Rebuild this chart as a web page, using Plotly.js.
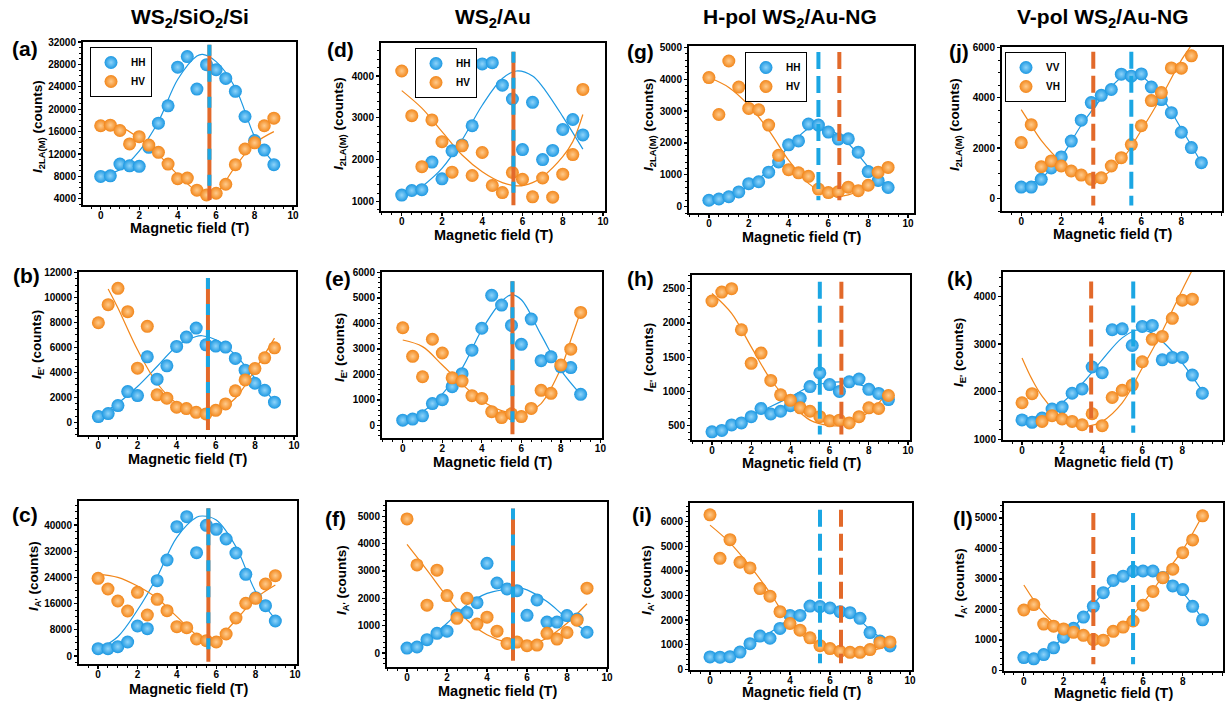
<!DOCTYPE html>
<html><head><meta charset="utf-8">
<script src="https://cdn.plot.ly/plotly-3.0.1.min.js"></script>
<style>html,body{margin:0;padding:0;background:#fff}#chart{width:1225px;height:701px}</style>
</head><body><div id="chart"></div>
<script>
// ---------- data ----------
const fieldT   = [0,0.5,1,1.5,2,2.5,3,3.5,4,4.5,5,5.5,6,6.5,7,7.5,8,8.5,9];
const fieldT85 = [0,0.5,1,1.5,2,2.5,3,3.5,4,4.5,5,5.5,6,6.5,7,7.5,8,8.5];

const columnTitles = ['WS<sub>2</sub>/SiO<sub>2</sub>/Si','WS<sub>2</sub>/Au','H-pol WS<sub>2</sub>/Au-NG','V-pol WS<sub>2</sub>/Au-NG'];
const panelLabels  = ['(a)','(b)','(c)','(d)','(e)','(f)','(g)','(h)','(i)','(j)','(k)','(l)'];
const legendNamesH = ['HH','HV'];
const legendNamesV = ['VV','VH'];
const yTitleSubs   = ['2LA(M)',"E'","A'"];
const xTitleText   = 'Magnetic field (T)';

// (a) WS2/SiO2/Si 2LA(M)
const a_HH = [8000,8100,10200,9900,9800,13200,17500,20600,27500,29400,23600,27950,27050,25500,23200,18700,14400,12700,10100];
const a_HV = [17050,17150,16200,13800,15100,13600,12300,10200,7600,7700,5550,4700,5000,6600,10100,12900,14000,17050,18400];
const a_fitHH_x = [0.5,1,2,3,4,5,5.3,6,7,8,8.5,9];
const a_fitHH_y = [8600,9200,12500,17800,25300,29500,29800,28500,23800,15100,12500,10400];
const a_fitHV_x = [0,1,2,3,4,5,5.5,6,7,8,9];
const a_fitHV_y = [17400,16900,14800,11900,8300,5300,4500,5000,9800,13900,16000];
// (b) WS2/SiO2/Si E'
const b_HH = [460,700,1340,2460,2140,5250,3460,4530,6080,6830,7550,6210,6110,6030,5120,4180,3130,2570,1610];
const b_HV = [7980,9430,10740,8870,4340,7690,2200,1930,1210,1100,800,670,960,1470,2520,3400,4310,5170,5970];
const b_fitHH_x = [0,1,2,3,4,5,5.3,6,7,8,9];
const b_fitHH_y = [510,1530,2870,4470,6080,6880,6940,6620,5410,3540,1660];
const b_fitHV_x = [0.5,1,2,3,4,5,5.6,6,7,8,9];
const b_fitHV_y = [10690,9160,5810,3130,1530,860,720,860,1930,4210,6750];
// (c) WS2/SiO2/Si A'
const c_HH = [2240,2240,2850,4270,9160,8350,23000,29310,39490,42540,31550,39900,38680,35730,31450,24940,17810,15370,10690];
const c_HV = [23720,20460,16790,13740,19440,12520,17300,13840,8960,8650,5190,4680,4270,6720,11600,16080,17610,21980,24530];
const c_fitHH_x = [0,1,2,3,4,5,5.3,6,7,8,9];
const c_fitHH_y = [2040,5900,14050,24220,36230,42340,42750,41530,33380,19640,11200];
const c_fitHV_x = [0,1,2,3,4,5,5.7,6,7,8,9];
const c_fitHV_y = [24940,24020,21370,17610,12010,6410,4380,4890,10990,17610,21680];
// (d) WS2/Au 2LA(M)
const d_HH = [1150,1260,1280,1940,1540,2210,2350,2810,4290,4320,3780,3450,2240,3370,2000,2220,2720,2960,2590];
const d_HV = [4120,3050,1830,2950,2430,1700,2330,1620,2170,1380,1210,1690,1530,1110,1560,1100,1650,2120,3680];
const d_fitHH_x = [1,2,3,4,5,5.7,6.5,7,8,9];
const d_fitHH_y = [1350,1790,2470,3300,3940,4120,4000,3740,3030,2250];
const d_fitHV_x = [0,1,2,3,4,5,5.8,6.5,7,8,8.5,9];
const d_fitHV_y = [3650,3230,2670,2110,1710,1450,1370,1450,1590,2070,2430,3080];
// (e) WS2/Au E'
const e_HH = [210,250,380,860,1010,1520,2030,2950,3810,5100,4720,3920,3180,4170,2540,2690,2300,2270,1220];
const e_HV = [3830,2710,1910,3380,2840,1870,1740,1170,1060,540,310,460,350,670,1380,1260,2370,2990,4430];
const e_fitHH_x = [0,1,2,3,4,5,5.5,6,7,8,9];
const e_fitHH_y = [210,540,1230,2240,3750,4860,5120,4930,3550,2170,1220];
const e_fitHV_x = [0,1,2,3,4,5,5.8,6.5,7,8,8.5,9];
const e_fitHV_y = [3350,3090,2370,1620,970,580,470,600,860,2240,3350,4470];
// (f) WS2/Au A'
const f_HH = [180,220,490,720,800,1400,1480,1840,3280,2560,2340,2280,1380,1940,1130,1130,1370,1240,760];
const f_HV = [4900,3220,1750,3030,2100,1270,2000,1060,1310,800,350,400,270,290,720,510,750,1200,2370];
const f_fitHH_x = [0,1,2,3,4,5,5.5,6,7,8,9];
const f_fitHH_y = [150,490,1090,1760,2180,2340,2400,2310,1880,1270,790];
const f_fitHV_x = [0,1,2,3,4,5,5.8,6.5,7,8,9];
const f_fitHV_y = [3970,3030,2060,1210,670,390,330,390,550,1090,1800];
// (g) H-pol 2LA(M)
const g_HH = [200,240,310,460,720,780,1080,1400,1940,2060,2590,2560,2340,2120,2130,1710,1100,820,600];
const g_HV = [4050,2890,4570,3750,3080,3040,2560,1610,1160,1060,950,550,440,470,610,500,670,1080,1230];
const g_fitHH_x = [0,1,2,3,4,5,5.5,6,7,8,8.5,9];
const g_fitHH_y = [190,330,630,1150,1880,2450,2530,2450,1980,1250,940,630];
const g_fitHV_x = [0,1,2,3,4,5,5.5,6,6.5,7,8,8.5,9];
const g_fitHV_y = [4050,3740,3180,2400,1460,730,520,370,330,370,630,940,1360];
// (h) H-pol E'
const h_HH = [410,430,510,540,630,750,670,710,790,900,1070,1270,1100,1000,1140,1180,1030,970,880];
const h_HV = [2320,2450,2500,1900,1410,1560,1160,950,870,760,710,630,570,580,540,630,760,750,940];
const h_fitHH_x = [0,1,2,3,4,5,6,6.6,7,8,8.5,9];
const h_fitHH_y = [410,510,650,780,920,1070,1130,1140,1140,1050,970,880];
const h_fitHV_x = [0,1,2,3,4,5,6,6.5,7,8,8.5,9];
const h_fitHV_y = [2430,2140,1650,1170,830,580,500,500,530,700,830,1000];
// (i) H-pol A'
const i_HH = [500,490,510,700,1040,1350,1260,1660,2190,2190,2570,2550,2490,2340,2300,2070,1490,1150,950];
const i_HV = [6280,4510,5270,4350,4120,3280,2970,2340,1860,1590,1280,960,840,730,690,690,800,1080,1110];
const i_fitHH_x = [0,1,2,3,4,5,5.6,6,7,8,9];
const i_fitHH_y = [470,540,970,1490,2050,2460,2610,2570,2300,1620,970];
const i_fitHV_x = [0,1,2,3,4,5,6,6.5,7,8,9];
const i_fitHV_y = [5860,5140,4190,3110,1890,1150,780,680,640,740,970];
// (j) V-pol 2LA(M)
const j_VV = [450,450,760,1210,1650,2280,3110,3810,4100,4330,4940,4860,4950,4430,3930,3410,2630,2020,1420];
const j_VH = [2220,2930,1260,1490,1290,1090,930,760,820,1290,1620,2140,2890,3890,4210,5190,5180,5670];
const j_fitVV_x = [0,1,2,3,4,5,5.5,6,7,8,9];
const j_fitVV_y = [450,810,1650,2910,3970,4810,4930,4860,4040,2770,1420];
const j_fitVH_x = [0,0.5,1,2,3,3.5,4,5,6,7,8,8.7];
const j_fitVH_y = [3530,2910,2310,1450,890,780,850,1510,2710,4040,5500,6300];
// (k) V-pol E'
const k_VV = [1410,1360,1450,1640,1680,1970,2060,2520,2400,3300,3320,2970,3370,3390,2670,2720,2720,2350,1970];
const k_VH = [1770,1960,1380,1500,1430,1380,1310,1540,1290,1880,2030,2140,2630,3100,3160,3540,3920,3940];
const k_fitVV_x = [0,1,2,3,4,5,5.8,6.5,7,8,9];
const k_fitVV_y = [1420,1510,1770,2170,2670,3130,3300,3230,3060,2600,2010];
const k_fitVH_x = [0,0.5,1,2,3,3.3,4,5,6,7,8,8.8];
const k_fitVH_y = [2710,2260,1910,1450,1290,1280,1380,1770,2500,3270,4140,4800];
// (l) V-pol A'
const l_VV = [420,380,520,740,1090,1380,1750,2100,2550,2950,3090,3260,3260,3260,3050,2770,2650,2100,1660];
const l_VH = [1980,2160,1520,1450,1360,1250,1150,1010,990,1280,1420,1620,2140,2590,3040,3320,3860,4280,5070];
const l_fitVV_x = [0,1,2,3,4,5,6,6.5,7,8,9];
const l_fitVV_y = [410,580,1070,1770,2530,3080,3320,3290,3080,2550,1680];
const l_fitVH_x = [0,1,2,3,3.5,4,5,6,7,8,9];
const l_fitVH_y = [2800,1880,1320,1070,1010,1070,1500,2210,3080,3950,5090];

// vertical marker lines, order a..l
const vlineBlueX   = [5.65,5.6,5.6,5.55,5.55,5.3,5.5,5.5,5.5,5.5,5.55,5.5];
const vlineOrangeX = [5.65,5.6,5.6,5.55,5.55,5.3,6.55,6.6,6.55,3.6,3.45,3.5];
const vlineY0      = [3800,-620,-1730,910,-340,-280,200,370,240,-280,1140,200];
const vlineY1      = [31500,11570,45090,4580,5650,5280,4850,2600,6490,5830,4310,5160];

// ---------- layout helpers ----------
const W = 1225, H = 701;
const FONT = 'Liberation Sans, Arial, sans-serif';
const BLUE = '#1C98E2', BLUE_C = '#8FD4FA';
const ORANGE = '#F2861A', ORANGE_C = '#FFCB8C';
const VBLUE = '#1BA6E3', VORANGE = '#E2692A';

const panels = [
 {f:[83,296,42,205],  xr:[-0.92,10.15], yr:[2900,32000],  dt:4000, sub:0, bx:fieldT, by:a_HH, ox:fieldT, oy:a_HV, fb:[a_fitHH_x,a_fitHH_y], fo:[a_fitHV_x,a_fitHV_y], col:0, lab:[25,49],  yt:[39,127],  xt:228, lg:'legend',  nm:legendNamesH},
 {f:[79,296,272,435], xr:[-0.99,10.1],  yr:[-1020,12050], dt:2000, sub:1, bx:fieldT, by:b_HH, ox:fieldT, oy:b_HV, fb:[b_fitHH_x,b_fitHH_y], fo:[b_fitHV_x,b_fitHV_y], col:0, lab:[26,276], yt:[37,345],  xt:459, nm:legendNamesH},
 {f:[79,297,501,664], xr:[-0.97,10.1],  yr:[-2440,47330], dt:8000, sub:2, bx:fieldT, by:c_HH, ox:fieldT, oy:c_HV, fb:[c_fitHH_x,c_fitHH_y], fo:[c_fitHV_x,c_fitHV_y], col:0, lab:[25,514], yt:[34,576],  xt:689, nm:legendNamesH},
 {f:[381,605,43,211], xr:[-1.03,10.1],  yr:[770,4790],    dt:1000, sub:0, bx:fieldT, by:d_HH, ox:fieldT, oy:d_HV, fb:[d_fitHH_x,d_fitHH_y], fo:[d_fitHV_x,d_fitHV_y], col:1, lab:[340,50], yt:[339,124], xt:235, lg:'legend2', nm:legendNamesH},
 {f:[382,602,272,438],xr:[-1.05,10.08], yr:[-490,6015],   dt:1000, sub:1, bx:fieldT, by:e_HH, ox:fieldT, oy:e_HV, fb:[e_fitHH_x,e_fitHH_y], fo:[e_fitHV_x,e_fitHV_y], col:1, lab:[338,278], yt:[340,348], xt:462, nm:legendNamesH},
 {f:[387,607,502,667],xr:[-1.0,10.0],   yr:[-510,5520],   dt:1000, sub:2, bx:fieldT, by:f_HH, ox:fieldT, oy:f_HV, fb:[f_fitHH_x,f_fitHH_y], fo:[f_fitHV_x,f_fitHV_y], col:1, lab:[335,518], yt:[342,580], xt:691, nm:legendNamesH},
 {f:[689,914,46,213], xr:[-1.0,10.3],   yr:[-200,5040],   dt:1000, sub:0, bx:fieldT, by:g_HH, ox:fieldT, oy:g_HV, fb:[g_fitHH_x,g_fitHH_y], fo:[g_fitHV_x,g_fitHV_y], col:2, lab:[640,51], yt:[649,125], xt:237, lg:'legend3', nm:legendNamesH},
 {f:[692,910,275,440],xr:[-1.02,10.1],  yr:[290,2700],    dt:500,  sub:1, bx:fieldT, by:h_HH, ox:fieldT, oy:h_HV, fb:[h_fitHH_x,h_fitHH_y], fo:[h_fitHV_x,h_fitHV_y], col:2, lab:[640,278], yt:[649,358], xt:463, nm:legendNamesH},
 {f:[690,912,503,670],xr:[-1.0,10.1],   yr:[-30,6760],    dt:1000, sub:2, bx:fieldT, by:i_HH, ox:fieldT, oy:i_HV, fb:[i_fitHH_x,i_fitHH_y], fo:[i_fitHV_x,i_fitHV_y], col:2, lab:[642,514], yt:[647,580], xt:692, nm:legendNamesH},
 {f:[1002,1222,47,211],xr:[-0.96,10.03],yr:[-500,6020],   dt:2000, sub:0, bx:fieldT, by:j_VV, ox:fieldT85, oy:j_VH, fb:[j_fitVV_x,j_fitVV_y], fo:[j_fitVH_x,j_fitVH_y], col:3, lab:[959,51], yt:[955,125], xt:234, lg:'legend4', nm:legendNamesV},
 {f:[1003,1223,272,440],xr:[-0.95,10.03],yr:[990,4510],   dt:1000, sub:1, bx:fieldT, by:k_VV, ox:fieldT85, oy:k_VH, fb:[k_fitVV_x,k_fitVV_y], fo:[k_fitVH_x,k_fitVH_y], col:3, lab:[960,278], yt:[959,352], xt:462, nm:legendNamesV},
 {f:[1004,1223,503,671],xr:[-1.0,10.03], yr:[-20,5490],   dt:1000, sub:2, bx:fieldT, by:l_VV, ox:fieldT, oy:l_VH, fb:[l_fitVV_x,l_fitVV_y], fo:[l_fitVH_x,l_fitVH_y], col:3, lab:[963,518], yt:[960,583], xt:693, nm:legendNamesV}
];
const legendPos = {legend:[90,47], legend2:[415,48], legend3:[745,52], legend4:[1005,52]};
const colCenters = [190,493,790,1103];

const data = [];
const layout = {
  width: W, height: H, margin:{l:0,r:0,t:0,b:0},
  paper_bgcolor:'#fff', plot_bgcolor:'#fff', showlegend:true,
  font:{family:FONT, color:'#000'},
  shapes:[], annotations:[]
};

function sphere(color, center){
  return {color:color, size:13, line:{width:0}, gradient:{type:'radial', color:center}};
}
function txt(text, px, py, size, angle){
  return {text:text, xref:'paper', yref:'paper', x:px/W, y:1 - py/H, xanchor:'center', yanchor:'middle',
    showarrow:false, textangle:angle||0, font:{family:FONT, size:size, weight:'bold', color:'#000'}};
}

panels.forEach((p, i) => {
  const n = i + 1;
  const xa = n === 1 ? 'xaxis' : 'xaxis' + n;
  const ya = n === 1 ? 'yaxis' : 'yaxis' + n;
  const xr = n === 1 ? 'x' : 'x' + n;
  const yr = n === 1 ? 'y' : 'y' + n;
  const [x0, x1, y0, y1] = p.f;
  const common = {
    showline:true, linecolor:'#000', linewidth:2, mirror:true,
    showgrid:false, zeroline:false,
    ticks:'outside', ticklen:3, tickwidth:1.3, tickcolor:'#000',
    minor:{ticks:'outside', ticklen:2, tickwidth:1, tickcolor:'#000', showgrid:false},
    tickfont:{family:FONT, size:10, weight:'bold', color:'#000'}
  };
  layout[xa] = Object.assign({}, common, {
    domain:[x0/W, x1/W], anchor:yr, range:p.xr, tick0:0, dtick:2, ticklabelstandoff:-3
  });
  layout[ya] = Object.assign({}, common, {
    domain:[1 - y1/H, 1 - y0/H], anchor:xr, range:p.yr, tick0:0, dtick:p.dt, tickformat:'d'
  });

  const lg = p.lg || 'legend';
  const show = !!p.lg;
  // fitted curves
  data.push({type:'scatter', mode:'lines', x:p.fb[0], y:p.fb[1], xaxis:xr, yaxis:yr,
    line:{color:BLUE, width:1.2, shape:'spline', smoothing:1}, showlegend:false, hoverinfo:'skip'});
  data.push({type:'scatter', mode:'lines', x:p.fo[0], y:p.fo[1], xaxis:xr, yaxis:yr,
    line:{color:ORANGE, width:1.2, shape:'spline', smoothing:1}, showlegend:false, hoverinfo:'skip'});
  // measured points
  data.push({type:'scatter', mode:'markers', name:p.nm[0], x:p.bx, y:p.by, xaxis:xr, yaxis:yr,
    marker:sphere(BLUE, BLUE_C), legend:lg, showlegend:show, cliponaxis:true});
  data.push({type:'scatter', mode:'markers', name:p.nm[1], x:p.ox, y:p.oy, xaxis:xr, yaxis:yr,
    marker:sphere(ORANGE, ORANGE_C), legend:lg, showlegend:show, cliponaxis:true});

  // vertical lines
  if (p.col < 2) {
    layout.shapes.push({type:'line', xref:xr, yref:yr, x0:vlineOrangeX[i], x1:vlineOrangeX[i], y0:vlineY0[i], y1:vlineY1[i],
      line:{color:VORANGE, width:4}});
    layout.shapes.push({type:'line', xref:xr, yref:yr, x0:vlineBlueX[i], x1:vlineBlueX[i], y0:vlineY1[i], y1:vlineY0[i],
      line:{color:VBLUE, width:4, dash:'11px,15px'}});
  } else {
    layout.shapes.push({type:'line', xref:xr, yref:yr, x0:vlineOrangeX[i], x1:vlineOrangeX[i], y0:vlineY1[i], y1:vlineY0[i],
      line:{color:VORANGE, width:4, dash:'17px,7px'}});
    layout.shapes.push({type:'line', xref:xr, yref:yr, x0:vlineBlueX[i], x1:vlineBlueX[i], y0:vlineY1[i], y1:vlineY0[i],
      line:{color:VBLUE, width:4, dash:'17px,7px'}});
  }

  // axis titles, panel label
  layout.annotations.push(txt(xTitleText, (x0 + x1) / 2, p.xt, 14.5));
  layout.annotations.push(txt('<i>I</i><sub>' + yTitleSubs[p.sub] + '</sub> (counts)', p.yt[0], p.yt[1], 13.5, -90));
  layout.annotations.push(txt(panelLabels[i], p.lab[0], p.lab[1], 21));
});

columnTitles.forEach((t, c) => layout.annotations.push(txt(t, colCenters[c], 18, 21)));

Object.keys(legendPos).forEach(k => {
  layout[k] = {x:legendPos[k][0]/W, y:1 - legendPos[k][1]/H, xanchor:'left', yanchor:'top',
    bgcolor:'#fff', bordercolor:'#000', borderwidth:1, itemwidth:30, tracegroupgap:0,
    font:{family:FONT, size:10, weight:'bold', color:'#000'}};
});

Plotly.newPlot('chart', data, layout, {displayModeBar:false, staticPlot:true});
</script>
</body></html>
